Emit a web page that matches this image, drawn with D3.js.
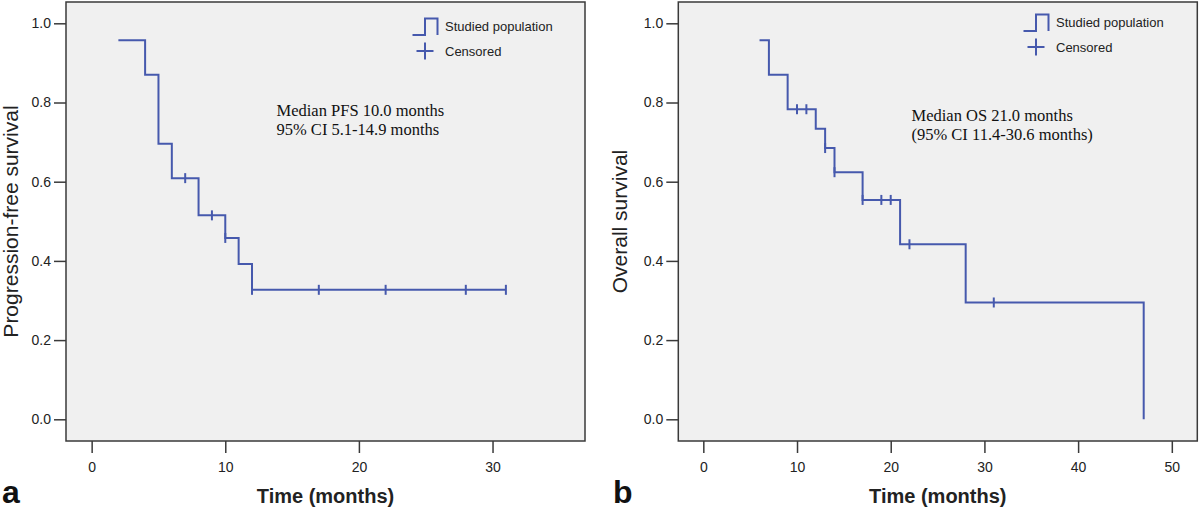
<!DOCTYPE html>
<html>
<head>
<meta charset="utf-8">
<script src="https://cdn.jsdelivr.net/npm/d3@7"></script>
<style>
  html, body { margin: 0; padding: 0; background: #ffffff; }
  svg { display: block; }
</style>
</head>
<body>
<svg id="chart" width="1200" height="509"></svg>
<script>
// ---------------- DATA ----------------
// Panel a: progression-free survival (Kaplan-Meier steps)
const pfsTimes = [2, 4, 5, 6, 8, 10, 11, 12, 31];
const pfsSurv  = [0.957, 0.870, 0.696, 0.609, 0.515, 0.458, 0.392, 0.327, 0.327];
const pfsCensored = [7, 9, 10, 12, 17, 22, 28, 31];

// Panel b: overall survival (Kaplan-Meier steps)
const osTimes = [6, 7, 9, 12, 13, 14, 17, 21, 28, 47];
const osSurv  = [0.957, 0.870, 0.783, 0.734, 0.685, 0.624, 0.554, 0.442, 0.295, 0.0];
const osCensored = [10, 11, 13, 14, 17, 19, 20, 22, 31];

const yTicks = [0.0, 0.2, 0.4, 0.6, 0.8, 1.0];
const pfsXTicks = [0, 10, 20, 30];
const osXTicks = [0, 10, 20, 30, 40, 50];

const legendLabels = ["Studied population", "Censored"];
const pfsNote = ["Median PFS 10.0 months", "95% CI 5.1-14.9 months"];
const osNote = ["Median OS 21.0 months", "(95% CI 11.4-30.6 months)"];
const xTitle = "Time (months)";
const pfsYTitle = "Progression-free survival";
const osYTitle = "Overall survival";

// ---------------- STYLE ----------------
const LINE = "#4659ad";
const BORDER = "#3a3a3a";
const PLOTBG = "#f0f0f0";
const SANS = "'Liberation Sans', Arial, sans-serif";
const SERIF = "'Liberation Serif', 'Times New Roman', serif";

const svg = d3.select("#chart");

function survivalAt(times, surv, t) {
  let s = surv[0];
  for (let i = 0; i < times.length; i++) if (times[i] <= t) s = surv[i];
  return s;
}

function drawPanel(cfg) {
  const g = svg.append("g");
  const x = d3.scaleLinear().domain(cfg.xDomain).range([cfg.left, cfg.right]);
  const y = d3.scaleLinear().domain([-0.0548, 1.0538]).range([441, 2]);

  // plot background
  g.append("rect")
    .attr("x", cfg.left).attr("y", 2)
    .attr("width", cfg.right - cfg.left).attr("height", 439)
    .attr("fill", PLOTBG);

  // curve
  const pts = cfg.times.map((t, i) => [t, cfg.surv[i]]);
  const line = d3.line().x(d => x(d[0])).y(d => y(d[1])).curve(d3.curveStepAfter);
  g.append("path").datum(pts)
    .attr("d", line)
    .attr("fill", "none")
    .attr("stroke", LINE)
    .attr("stroke-width", 2);

  // censored marks
  g.selectAll(".cens").data(cfg.censored).enter().append("line")
    .attr("x1", d => x(d)).attr("x2", d => x(d))
    .attr("y1", d => y(survivalAt(cfg.times, cfg.surv, d)) - 5)
    .attr("y2", d => y(survivalAt(cfg.times, cfg.surv, d)) + 5)
    .attr("stroke", LINE).attr("stroke-width", 2);

  // border
  g.append("rect")
    .attr("x", cfg.left).attr("y", 2)
    .attr("width", cfg.right - cfg.left).attr("height", 439)
    .attr("fill", "none").attr("stroke", BORDER).attr("stroke-width", 1.5);

  // y axis
  const ya = g.append("g").attr("transform", `translate(${cfg.left},0)`)
    .call(d3.axisLeft(y).tickValues(yTicks).tickFormat(d3.format(".1f")).tickSize(12).tickPadding(3));
  ya.select(".domain").remove();
  ya.selectAll("line").attr("stroke", BORDER).attr("stroke-width", 1.5);
  ya.selectAll("text").attr("font-family", SANS).attr("font-size", 14).attr("fill", "#222");

  // x axis
  const xa = g.append("g").attr("transform", `translate(0,441)`)
    .call(d3.axisBottom(x).tickValues(cfg.xTicks).tickFormat(d3.format("d")).tickSize(12).tickPadding(9));
  xa.select(".domain").remove();
  xa.selectAll("line").attr("stroke", BORDER).attr("stroke-width", 1.5);
  xa.selectAll("text").attr("font-family", SANS).attr("font-size", 14).attr("fill", "#222");

  // x title
  g.append("text")
    .attr("x", (cfg.left + cfg.right) / 2).attr("y", 503)
    .attr("text-anchor", "middle")
    .attr("font-family", SANS).attr("font-size", 20).attr("font-weight", "bold")
    .attr("fill", "#222").text(xTitle);

  // y title
  g.append("text")
    .attr("transform", `translate(${cfg.yTitleX},221.5) rotate(-90)`)
    .attr("text-anchor", "middle")
    .attr("font-family", SANS).attr("font-size", 21)
    .attr("fill", "#222").text(cfg.yTitle);

  // panel letter
  g.append("text")
    .attr("x", cfg.letterX).attr("y", 503)
    .attr("font-family", SANS).attr("font-size", 32).attr("font-weight", "bold")
    .attr("fill", "#111").text(cfg.letter);

  // legend
  const lg = g.append("g").attr("transform", `translate(${cfg.legX},${cfg.legY})`);
  lg.append("path")
    .attr("d", "M0,16.5 H12.5 V0 H25 V16.5")
    .attr("fill", "none").attr("stroke", LINE).attr("stroke-width", 2);
  lg.append("line").attr("x1", 4).attr("x2", 21).attr("y1", 32.5).attr("y2", 32.5)
    .attr("stroke", LINE).attr("stroke-width", 2);
  lg.append("line").attr("x1", 12.5).attr("x2", 12.5).attr("y1", 24).attr("y2", 41)
    .attr("stroke", LINE).attr("stroke-width", 2);
  lg.selectAll(".lt").data(legendLabels).enter().append("text")
    .attr("x", 32.5).attr("y", (d, i) => 12.5 + i * 25)
    .attr("font-family", SANS).attr("font-size", 13).attr("fill", "#222")
    .text(d => d);

  // note
  g.selectAll(".note").data(cfg.note).enter().append("text")
    .attr("x", cfg.noteX).attr("y", (d, i) => cfg.noteY + i * 19)
    .attr("font-family", SERIF).attr("font-size", 16.5).attr("fill", "#111")
    .text(d => d);
}

drawPanel({
  left: 66, right: 585, xDomain: [-1.92, 36.92], xTicks: pfsXTicks,
  times: pfsTimes, surv: pfsSurv, censored: pfsCensored,
  yTitle: pfsYTitle, yTitleX: 18, letter: "a", letterX: 2,
  legX: 412.5, legY: 18.5, note: pfsNote, noteX: 276.5, noteY: 116
});

drawPanel({
  left: 678.3, right: 1197.3, xDomain: [-2.67, 52.72], xTicks: osXTicks,
  times: osTimes, surv: osSurv, censored: osCensored,
  yTitle: osYTitle, yTitleX: 627, letter: "b", letterX: 613,
  legX: 1023.5, legY: 14.5, note: osNote, noteX: 911.5, noteY: 120.5
});
</script>
</body>
</html>
